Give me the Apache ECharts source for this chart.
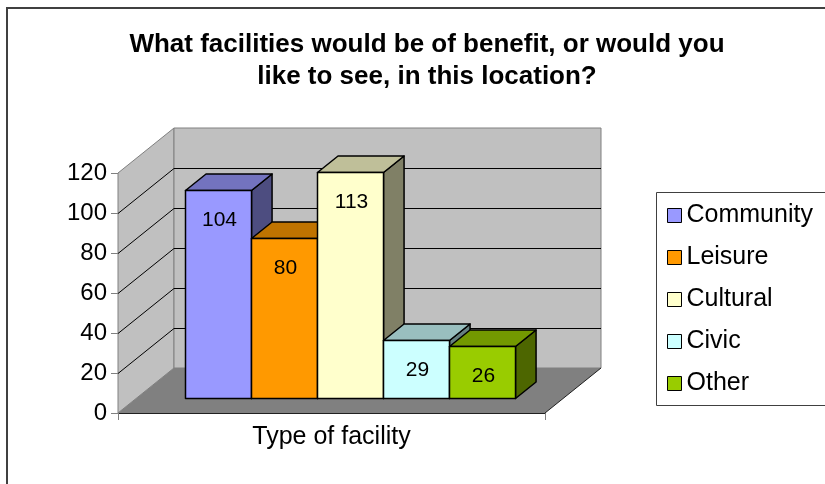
<!DOCTYPE html>
<html>
<head>
<meta charset="utf-8">
<script src="https://cdn.jsdelivr.net/npm/echarts@6/dist/echarts.min.js"></script>
<style>
  html, body { margin: 0; padding: 0; background: #fff; }
  #main { width: 825px; height: 484px; }
</style>
</head>
<body>
<div id="main"></div>
<script>
const category = ['Type of facility'];
const facilities = ['Community', 'Leisure', 'Cultural', 'Civic', 'Other'];
const counts = [104, 80, 113, 29, 26];
const yTicks = [0, 20, 40, 60, 80, 100, 120];

const frontColors = ['#9999FF', '#FF9900', '#FFFFCC', '#CCFFFF', '#99CC00'];
const topColors = ['#7373BF', '#BF7300', '#BFBF99', '#99BFBF', '#739900'];
const sideColors = ['#4D4D80', '#804D00', '#808066', '#668080', '#4D6600'];

// oblique depth of the floor, px
const DX = 56, DY = -45;
// bars sit between these fractions of the floor depth
const D0 = 0.333, D1 = 0.7;
const BAR_W = 0.1546; // share of the category band per bar

const FONT = 'Liberation Sans, Arial, sans-serif';

let chart = echarts.init(document.getElementById('main'));

// walls, floor and gridlines
function renderBack(params, api) {
  const cs = params.coordSys;
  const x0 = cs.x, x1 = cs.x + cs.width;
  const yb = api.coord([0, yTicks[0]])[1];
  const yt = api.coord([0, yTicks[yTicks.length - 1]])[1];
  const kids = [];
  kids.push({
    type: 'polygon',
    shape: { points: [[x0, yb], [x0, yt], [x0 + DX, yt + DY], [x0 + DX, yb + DY]] },
    style: { fill: '#C0C0C0', stroke: '#808080', lineWidth: 1 }
  });
  kids.push({
    type: 'polygon',
    shape: { points: [[x0 + DX, yb + DY], [x0 + DX, yt + DY], [x1 + DX, yt + DY], [x1 + DX, yb + DY]] },
    style: { fill: '#C0C0C0', stroke: '#808080', lineWidth: 1 }
  });
  kids.push({
    type: 'polygon',
    shape: { points: [[x0, yb], [x1, yb], [x1 + DX, yb + DY], [x0 + DX, yb + DY]] },
    style: { fill: '#808080' }
  });
  kids.push({
    type: 'polyline',
    shape: { points: [[x1, yb], [x1 + DX, yb + DY]] },
    style: { stroke: '#202020', lineWidth: 1, fill: null }
  });
  yTicks.slice(1, -1).forEach(function (v) {
    const y = Math.round(api.coord([0, v])[1]) + 0.5;
    kids.push({
      type: 'polyline',
      shape: { points: [[x0, y], [x0 + DX, y + DY], [x1 + DX, y + DY]] },
      style: { stroke: '#000', lineWidth: 1, fill: null }
    });
  });
  return { type: 'group', children: kids };
}

function makeBar(i) {
  return function (params, api) {
    const c = api.coord([api.value(0), api.value(1)]);
    const base = api.coord([api.value(0), 0]);
    const band = api.size([1, 0])[0];
    const w = band * BAR_W;
    const left = Math.round(c[0] - 2.5 * w + i * w + DX * D0) + 0.5;
    const top = Math.round(c[1] + DY * D0) + 0.5;
    const bot = Math.round(base[1] + DY * D0) + 0.5;
    const ddx = DX * (D1 - D0), ddy = DY * (D1 - D0);
    const ln = { stroke: '#000', lineWidth: 1.5, lineJoin: 'round' };
    return {
      type: 'group',
      children: [
        {
          type: 'polygon',
          shape: { points: [[left + w, top], [left + w + ddx, top + ddy], [left + w + ddx, bot + ddy], [left + w, bot]] },
          style: Object.assign({ fill: sideColors[i] }, ln)
        },
        {
          type: 'polygon',
          shape: { points: [[left, top], [left + w, top], [left + w + ddx, top + ddy], [left + ddx, top + ddy]] },
          style: Object.assign({ fill: topColors[i] }, ln)
        },
        {
          type: 'rect',
          shape: { x: left, y: top, width: w, height: bot - top },
          style: Object.assign({ fill: frontColors[i] }, ln)
        },
        {
          type: 'text',
          x: left + w / 2 + 1,
          y: top + 30,
          style: {
            text: String(api.value(1)),
            align: 'center',
            verticalAlign: 'middle',
            fontSize: 21,
            fontFamily: FONT,
            fill: '#000'
          }
        }
      ]
    };
  };
}

let series = [{
  type: 'custom',
  name: 'back',
  renderItem: renderBack,
  data: [[0, 0]],
  z: 1,
  silent: true
}];
facilities.forEach(function (name, i) {
  series.push({
    type: 'custom',
    name: name,
    renderItem: makeBar(i),
    itemStyle: { color: frontColors[i] },
    data: [[0, counts[i]]],
    z: 3
  });
});

let option = {
  animation: false,
  backgroundColor: '#fff',
  title: {
    text: 'What facilities would be of benefit, or would you\nlike to see, in this location?',
    left: 422,
    top: 24,
    textAlign: 'center',
    textStyle: {
      fontFamily: FONT,
      fontWeight: 'bold',
      fontSize: 26,
      lineHeight: 32,
      color: '#000'
    }
  },
  graphic: [{
    type: 'polyline',
    shape: { points: [[7, 484], [7, 8], [825, 8]] },
    style: { fill: null, stroke: '#404040', lineWidth: 2 },
    z: 0
  }, {
    // legend frame runs off the right edge
    type: 'polyline',
    shape: { points: [[826, 192.5], [656.5, 192.5], [656.5, 405.5], [826, 405.5]] },
    style: { fill: null, stroke: '#404040', lineWidth: 1 },
    z: 0
  }],
  legend: {
    orient: 'vertical',
    left: 657,
    top: 193,
    padding: [10, 4, 10, 10],
    itemGap: 17,
    itemWidth: 14,
    itemHeight: 14,
    borderWidth: 0,
    icon: 'rect',
    itemStyle: { borderColor: '#000', borderWidth: 1 },
    textStyle: { fontFamily: FONT, fontSize: 25, lineHeight: 25, color: '#000' },
    data: facilities
  },
  grid: { left: 118, top: 173, width: 427, height: 240 },
  xAxis: {
    type: 'category',
    data: category,
    axisLine: { lineStyle: { color: '#202020', width: 1 } },
    axisTick: { show: true, length: 7, lineStyle: { color: '#808080' } },
    axisLabel: { margin: 12, fontSize: 25, fontFamily: FONT, color: '#000' },
    splitLine: { show: false }
  },
  yAxis: {
    type: 'value',
    min: 0,
    max: 120,
    interval: 20,
    axisLine: { show: true, lineStyle: { color: '#808080', width: 1 } },
    axisTick: { show: true, length: 7, lineStyle: { color: '#808080' } },
    axisLabel: { margin: 11, fontSize: 24, fontFamily: FONT, color: '#000' },
    splitLine: { show: false }
  },
  series: series
};
chart.setOption(option);
</script>
</body>
</html>
